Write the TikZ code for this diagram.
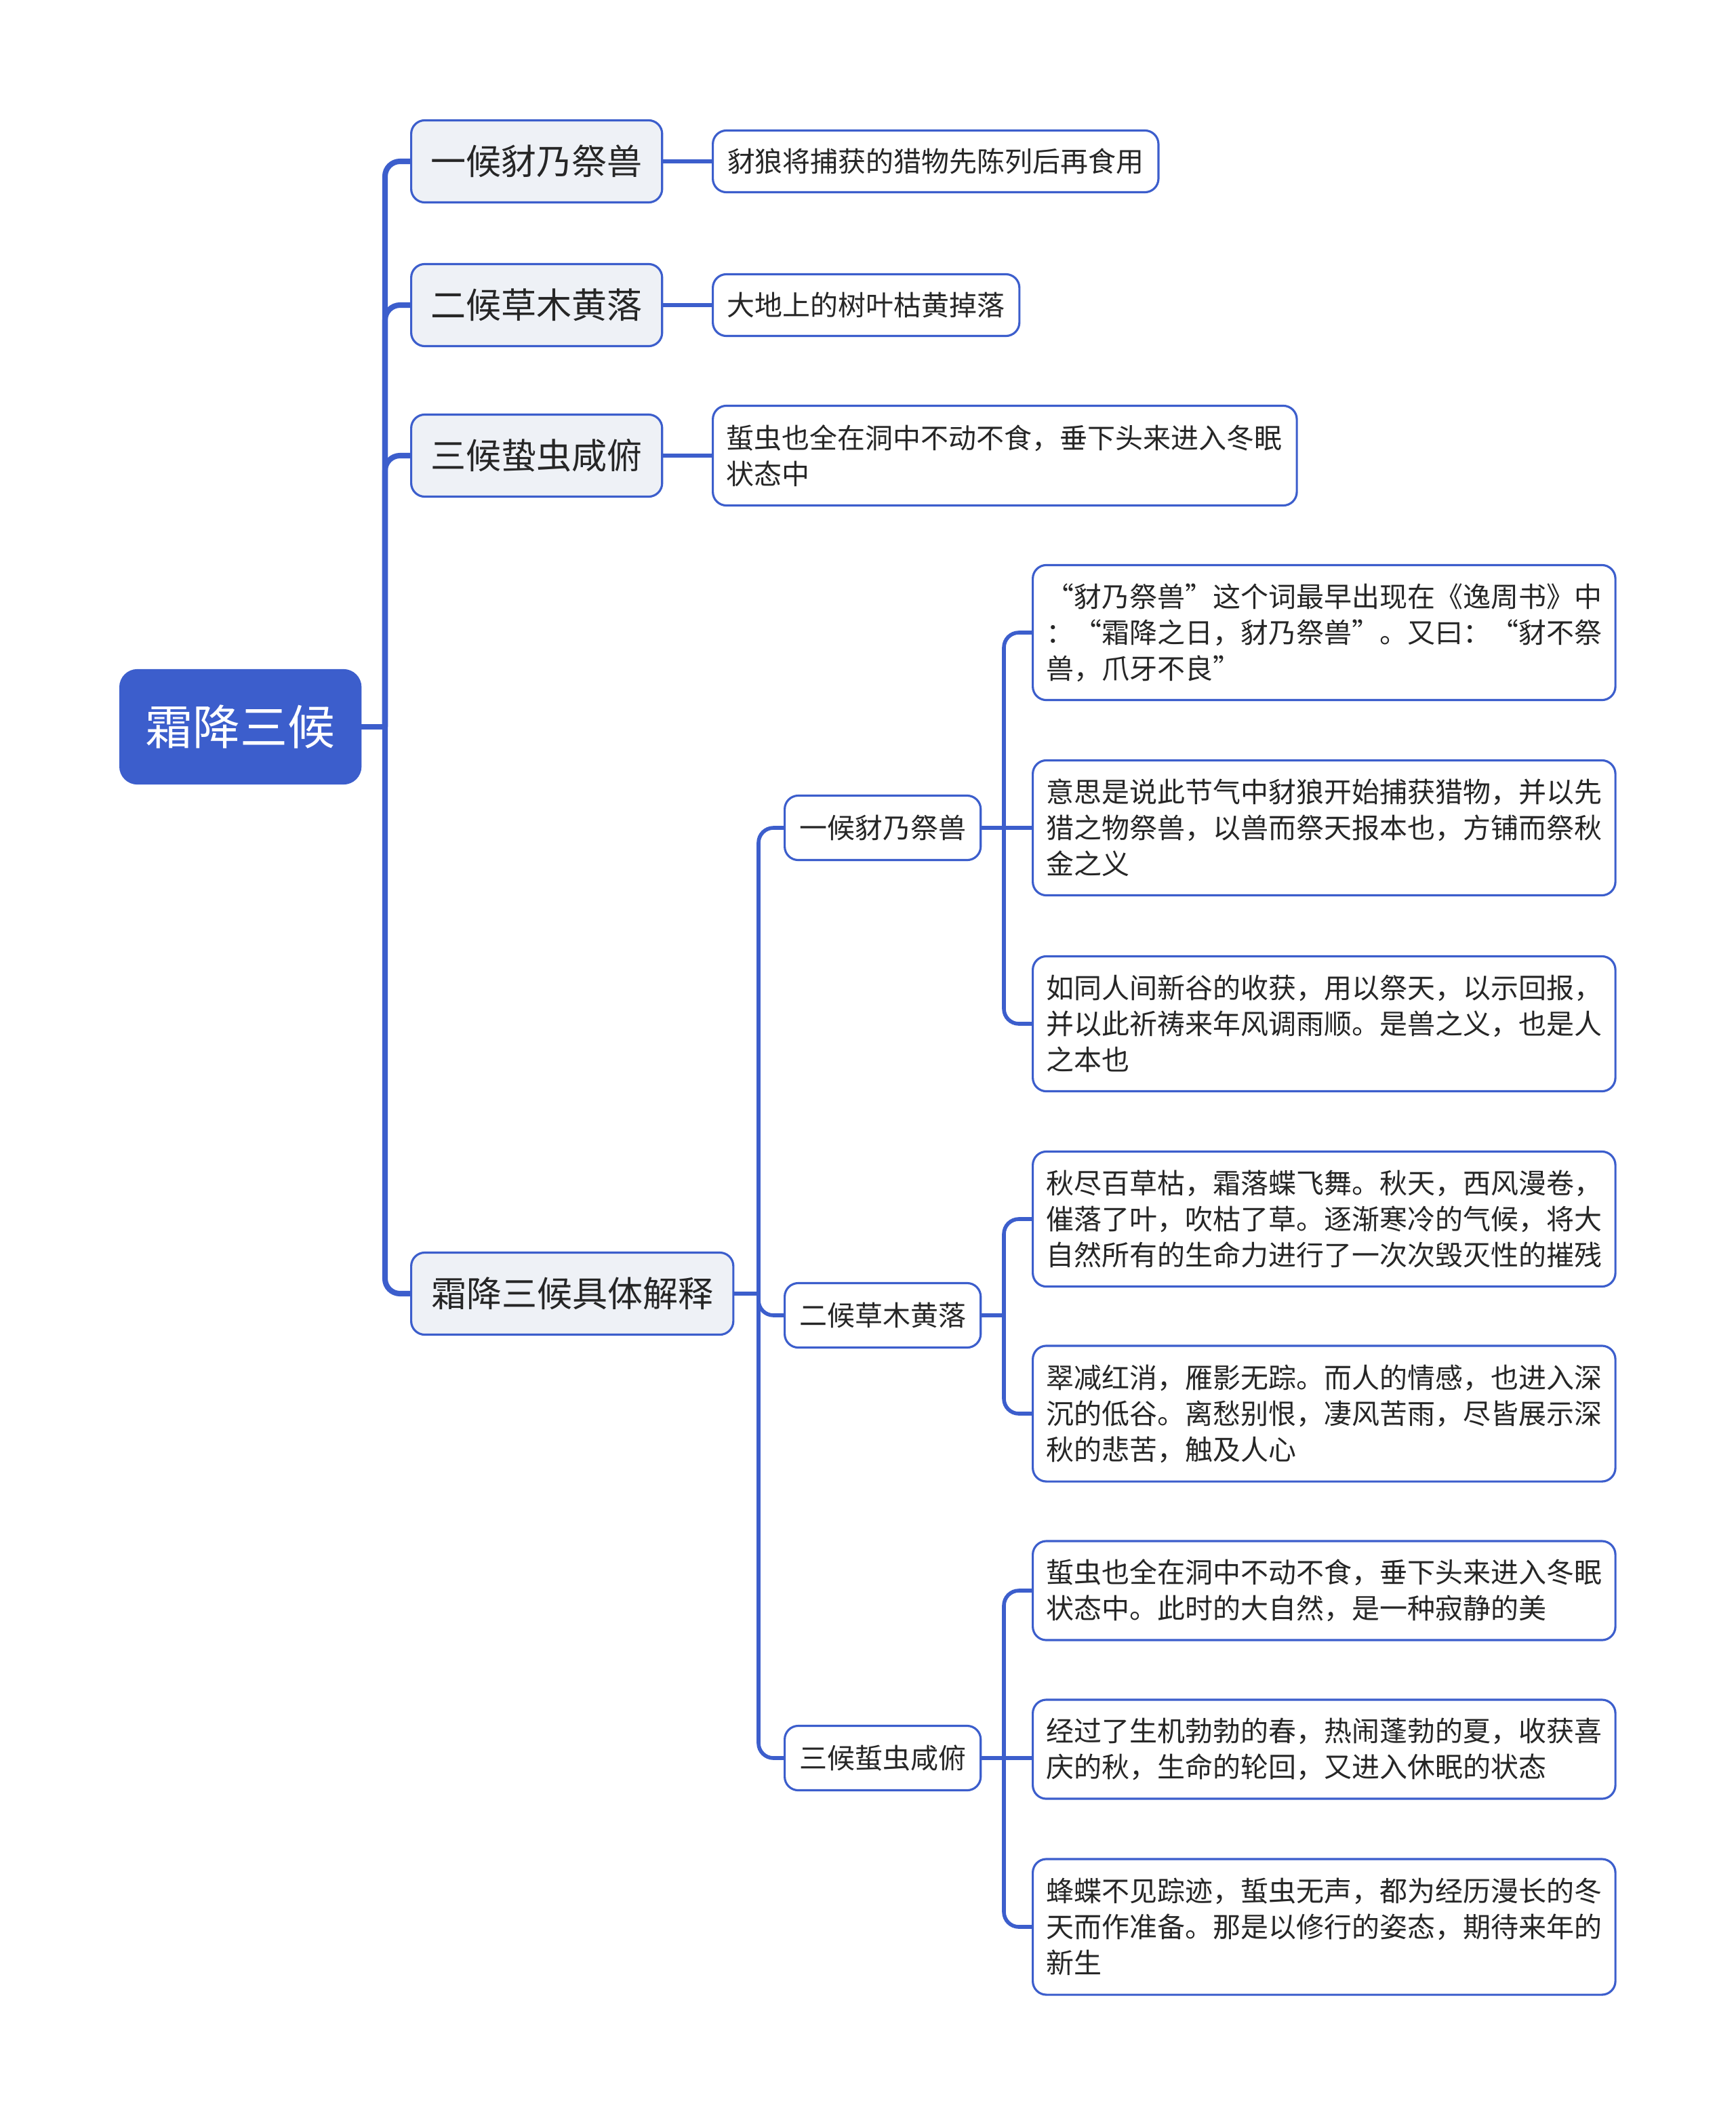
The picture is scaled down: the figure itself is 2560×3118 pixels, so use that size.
\documentclass[tikz,border=0pt]{standalone}
\usepackage{fontspec}
\setmainfont{Noto Sans CJK SC}
\definecolor{mapblue}{RGB}{60,94,204}
\definecolor{topicgray}{RGB}{238,241,246}
\definecolor{inkgray}{RGB}{38,38,38}

\begin{document}
\begin{tikzpicture}[x=0.01cm, y=-0.01cm, line join=round,
    box/.style={draw=mapblue, line width=0.9pt, rounded corners=0.2cm, anchor=west, text=inkgray, inner sep=0pt},
    root/.style={box, fill=mapblue, text=white, rounded corners=0.25cm, minimum width=3.54cm, minimum height=1.67cm, font=\fontsize{19.9pt}{24pt}\selectfont},
    topic/.style={box, fill=topicgray, minimum height=1.21cm, font=\fontsize{14.8pt}{18pt}\selectfont},
    sub/.style={box, fill=white, minimum width=2.89cm, minimum height=0.95cm, font=\fontsize{11.65pt}{15.1pt}\selectfont},
    leaf/.style={box, fill=white, align=left, inner xsep=0.2cm, font=\fontsize{11.65pt}{15.1pt}\selectfont},
    trunk/.style={draw=mapblue, line width=2.3pt, rounded corners=0.22cm},
    link/.style={draw=mapblue, line width=1.6pt, rounded corners=0.22cm}]
  \useasboundingbox (0,0) rectangle (2560,3118);
  \node[root] (root) at (176,1072) {霜降三候};
  \node[topic, minimum width=3.7cm] (t1) at (605,238) {一候豺乃祭兽};
  \node[topic, minimum width=3.7cm] (t2) at (605,450) {二候草木黄落};
  \node[topic, minimum width=3.7cm] (t3) at (605,672) {三候蛰虫咸俯};
  \node[topic, minimum width=4.75cm] (t4) at (605,1908) {霜降三候具体解释};
  \node[leaf, minimum width=6.57cm, minimum height=0.91cm] (l1) at (1050,238) {豺狼将捕获的猎物先陈列后再食用};
  \node[leaf, minimum width=4.52cm, minimum height=0.91cm] (l2) at (1050,450) {大地上的树叶枯黄掉落};
  \node[leaf, text width=8.21cm, minimum height=1.47cm] (l3) at (1050,672) {蜇虫也全在洞中不动不食，垂下头来进入冬眠\\状态中};
  \node[sub] (s1) at (1156,1221) {一候豺乃祭兽};
  \node[sub] (s2) at (1156,1940) {二候草木黄落};
  \node[sub] (s3) at (1156,2593) {三候蜇虫咸俯};
  \node[leaf, text width=8.19cm, minimum height=1.99cm] (a) at (1522,933) {“豺乃祭兽”这个词最早出现在《逸周书》中\\：“霜降之日，豺乃祭兽”。又曰：“豺不祭\\兽，爪牙不良”};
  \node[leaf, text width=8.19cm, minimum height=1.99cm] (b) at (1522,1221) {意思是说此节气中豺狼开始捕获猎物，并以先\\猎之物祭兽，以兽而祭天报本也，方铺而祭秋\\金之义};
  \node[leaf, text width=8.19cm, minimum height=1.99cm] (c) at (1522,1510) {如同人间新谷的收获，用以祭天，以示回报，\\并以此祈祷来年风调雨顺。是兽之义，也是人\\之本也};
  \node[leaf, text width=8.19cm, minimum height=1.99cm] (d) at (1522,1798) {秋尽百草枯，霜落蝶飞舞。秋天，西风漫卷，\\催落了叶，吹枯了草。逐渐寒冷的气候，将大\\自然所有的生命力进行了一次次毁灭性的摧残};
  \node[leaf, text width=8.19cm, minimum height=2.0cm] (e) at (1522,2085) {翠减红消，雁影无踪。而人的情感，也进入深\\沉的低谷。离愁别恨，凄风苦雨，尽皆展示深\\秋的悲苦，触及人心};
  \node[leaf, text width=8.19cm, minimum height=1.46cm] (f) at (1522,2346) {蜇虫也全在洞中不动不食，垂下头来进入冬眠\\状态中。此时的大自然，是一种寂静的美};
  \node[leaf, text width=8.19cm, minimum height=1.46cm] (g) at (1522,2580) {经过了生机勃勃的春，热闹蓬勃的夏，收获喜\\庆的秋，生命的轮回，又进入休眠的状态};
  \node[leaf, text width=8.19cm, minimum height=2.0cm] (h) at (1522,2842) {蜂蝶不见踪迹，蜇虫无声，都为经历漫长的冬\\天而作准备。那是以修行的姿态，期待来年的\\新生};
  \coordinate (j0) at (568,1072);
  \draw[trunk] (root.east) -- (j0);
  \foreach \n in {t1,t2,t3,t4} \draw[trunk] (j0) |- (\n.west);
  \foreach \n in {1,2,3} \draw[link] (t\n) -- (l\n);
  \coordinate (j1) at (1119,1908);
  \draw[link] (t4.east) -- (j1);
  \foreach \n in {s1,s2,s3} \draw[link] (j1) |- (\n.west);
  \coordinate (k1) at (1481,1221);
  \draw[link] (s1.east) -- (k1);
  \draw[link] (k1) |- (a.west);
  \draw[link] (k1) -- (b.west);
  \draw[link] (k1) |- (c.west);
  \coordinate (k2) at (1481,1940);
  \draw[link] (s2.east) -- (k2);
  \foreach \n in {d,e} \draw[link] (k2) |- (\n.west);
  \coordinate (k3) at (1481,2593);
  \draw[link] (s3.east) -- (k3);
  \draw[link] (k3) |- (f.west);
  \draw[link] (k3) -- (k3 -| g.west);
  \draw[link] (k3) |- (h.west);
\end{tikzpicture}
\end{document}
